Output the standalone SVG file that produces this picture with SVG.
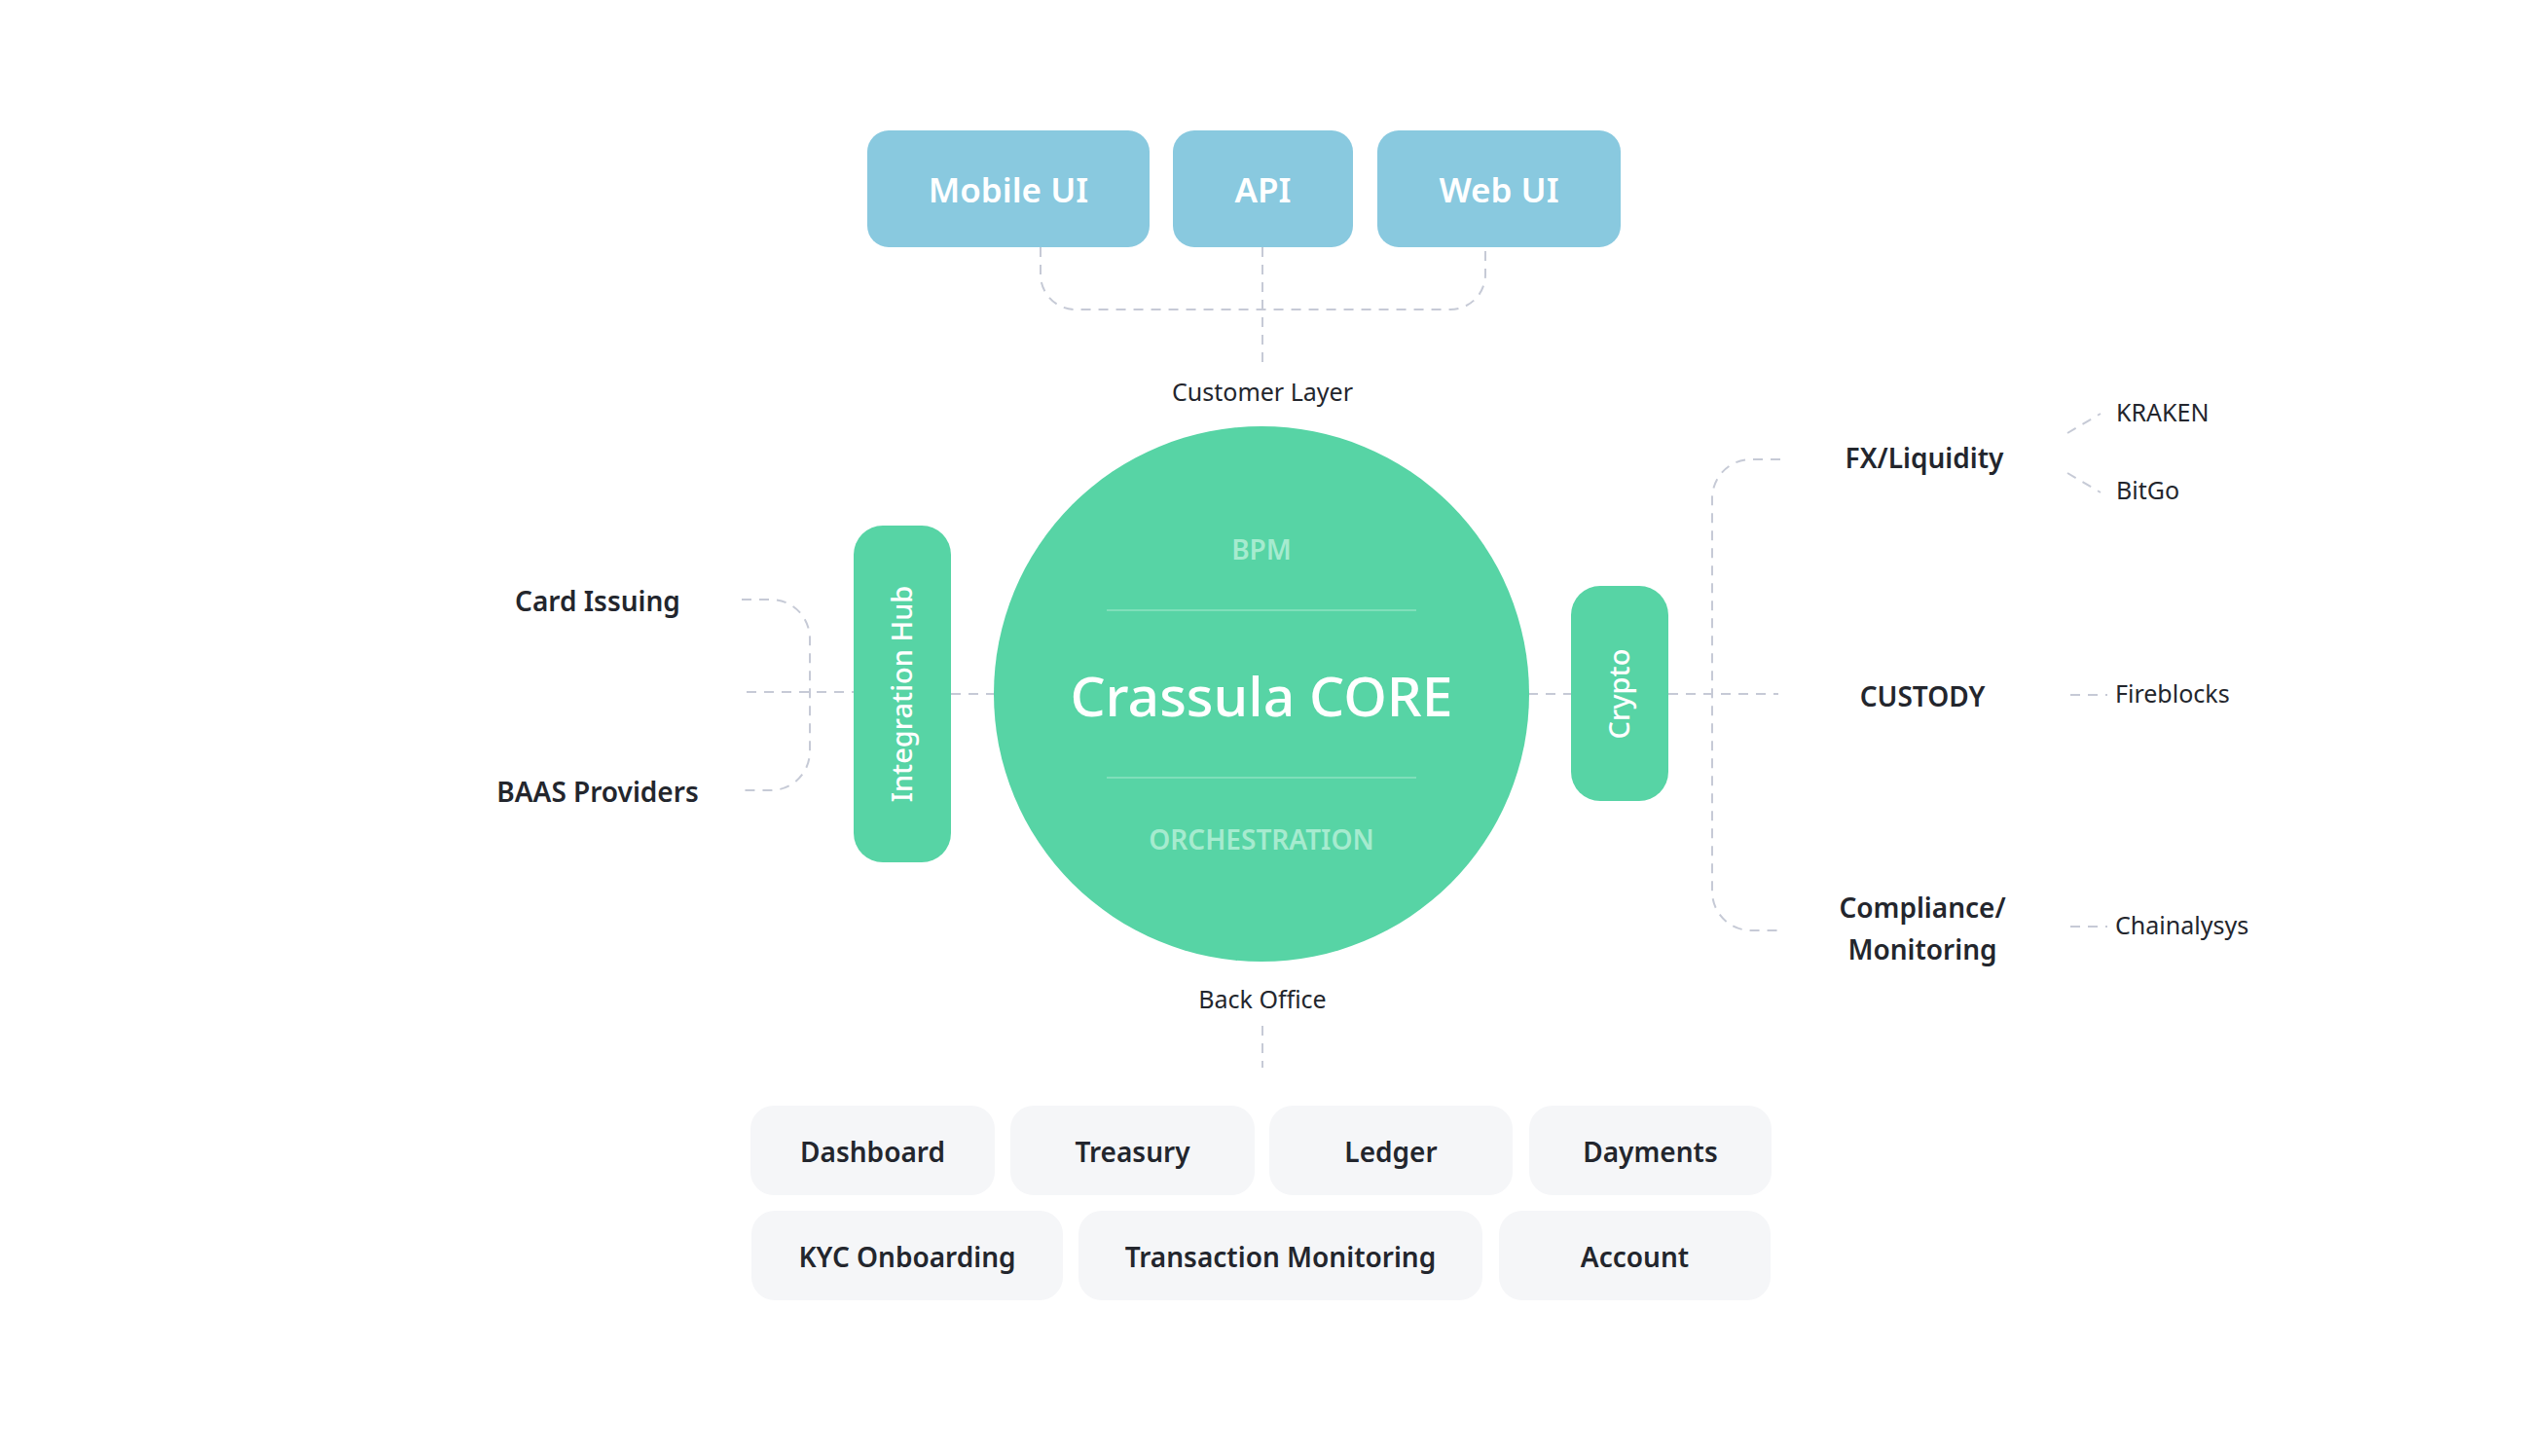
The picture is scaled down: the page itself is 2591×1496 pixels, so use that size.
<svg xmlns="http://www.w3.org/2000/svg" width="2591" height="1496" viewBox="0 0 2591 1496">
<defs>
<style>
text { font-family: "Noto Sans", "Open Sans", sans-serif; }
.conn { fill: none; stroke: #c6cad6; stroke-width: 2; stroke-dasharray: 10 8; }
.blue { fill: #89c9df; }
.green { fill: #57d4a5; }
.grey { fill: #f5f6f8; }
.wlabel { fill: #ffffff; font-size: 35px; font-weight: 600; text-anchor: middle; }
.vlabel { fill: #ffffff; font-size: 29px; font-weight: 500; text-anchor: middle; }
.layer { fill: #23262d; font-size: 25px; text-anchor: middle; }
.head { fill: #23262d; font-size: 28px; font-weight: 600; text-anchor: middle; }
.leaf { fill: #23262d; font-size: 25px; }
.mod { fill: #23262d; font-size: 28px; font-weight: 600; text-anchor: middle; }
.sub { fill: #a6ebcf; font-size: 28px; font-weight: 600; text-anchor: middle; }
</style>
</defs>
<rect width="2591" height="1496" fill="#ffffff"/>

<g id="connectors">
  <path class="conn" d="M1069 254 V282 A36 36 0 0 0 1105 318 H1490 A36 36 0 0 0 1526 282 V254"/>
  <path class="conn" d="M1297 254 V373"/>
  <path class="conn" d="M1297 1054 V1097"/>
  <path class="conn" d="M762 616 H792 A40 40 0 0 1 832 656 V772 A40 40 0 0 1 792 812 H762"/>
  <path class="conn" d="M767 711 H877"/>
  <path class="conn" d="M977 713 H1021"/>
  <path class="conn" d="M1570 713 H1614"/>
  <path class="conn" d="M1714 713 H1827"/>
  <path class="conn" d="M1829 472 H1799 A40 40 0 0 0 1759 512 V916 A40 40 0 0 0 1799 956 H1829"/>
  <path class="conn" d="M2124 445 L2158 425"/>
  <path class="conn" d="M2124 486 L2158 506"/>
  <path class="conn" d="M2127 714 H2165"/>
  <path class="conn" d="M2127 952 H2165"/>
</g>

<g id="mobile-ui">
  <rect class="blue" x="891" y="134" width="290" height="120" rx="22"/>
  <text class="wlabel" x="1036" y="208">Mobile UI</text>
</g>
<g id="api">
  <rect class="blue" x="1205" y="134" width="185" height="120" rx="22"/>
  <text class="wlabel" x="1297.5" y="208">API</text>
</g>
<g id="web-ui">
  <rect class="blue" x="1415" y="134" width="250" height="120" rx="22"/>
  <text class="wlabel" x="1540" y="208">Web UI</text>
</g>

<g id="customer-layer">
  <text class="layer" x="1297" y="412">Customer Layer</text>
</g>

<g id="core">
  <circle class="green" cx="1296" cy="713" r="275"/>
  <line x1="1137" y1="627" x2="1455" y2="627" stroke="#7fdfba" stroke-width="2"/>
  <line x1="1137" y1="799" x2="1455" y2="799" stroke="#7fdfba" stroke-width="2"/>
  <text class="sub" x="1296" y="575">BPM</text>
  <text x="1296" y="736" fill="#ffffff" font-size="57" font-weight="500" text-anchor="middle">Crassula CORE</text>
  <text class="sub" x="1296" y="873">ORCHESTRATION</text>
</g>

<g id="integration-hub">
  <rect class="green" x="877" y="540" width="100" height="346" rx="30"/>
  <text class="vlabel" transform="translate(927 713) rotate(-90)" x="0" y="10">Integration Hub</text>
</g>

<g id="crypto">
  <rect class="green" x="1614" y="602" width="100" height="221" rx="30"/>
  <text class="vlabel" transform="translate(1664 713) rotate(-90)" x="0" y="10">Crypto</text>
</g>

<g id="card-issuing"><text class="head" x="614" y="628">Card Issuing</text></g>
<g id="baas-providers"><text class="head" x="614" y="824">BAAS Providers</text></g>

<g id="fx-liquidity"><text class="head" x="1977" y="481">FX/Liquidity</text></g>
<g id="custody"><text class="head" x="1975" y="726">CUSTODY</text></g>
<g id="compliance"><text class="head" x="1975" y="943">Compliance/</text><text class="head" x="1975" y="986">Monitoring</text></g>

<g id="kraken"><text class="leaf" x="2174" y="433">KRAKEN</text></g>
<g id="bitgo"><text class="leaf" x="2174" y="513">BitGo</text></g>
<g id="fireblocks"><text class="leaf" x="2173" y="722">Fireblocks</text></g>
<g id="chainalysys"><text class="leaf" x="2173" y="960">Chainalysys</text></g>

<g id="back-office"><text class="layer" x="1297" y="1036">Back Office</text></g>

<g id="dashboard">
  <rect class="grey" x="771" y="1136" width="251" height="92" rx="24"/>
  <text class="mod" x="896.5" y="1194">Dashboard</text>
</g>
<g id="treasury">
  <rect class="grey" x="1038" y="1136" width="251" height="92" rx="24"/>
  <text class="mod" x="1163.5" y="1194">Treasury</text>
</g>
<g id="ledger">
  <rect class="grey" x="1304" y="1136" width="250" height="92" rx="24"/>
  <text class="mod" x="1429" y="1194">Ledger</text>
</g>
<g id="dayments">
  <rect class="grey" x="1571" y="1136" width="249" height="92" rx="24"/>
  <text class="mod" x="1695.5" y="1194">Dayments</text>
</g>
<g id="kyc-onboarding">
  <rect class="grey" x="772" y="1244" width="320" height="92" rx="24"/>
  <text class="mod" x="932" y="1302">KYC Onboarding</text>
</g>
<g id="transaction-monitoring">
  <rect class="grey" x="1108" y="1244" width="415" height="92" rx="24"/>
  <text class="mod" x="1315.5" y="1302">Transaction Monitoring</text>
</g>
<g id="account">
  <rect class="grey" x="1540" y="1244" width="279" height="92" rx="24"/>
  <text class="mod" x="1679.5" y="1302">Account</text>
</g>
</svg>
